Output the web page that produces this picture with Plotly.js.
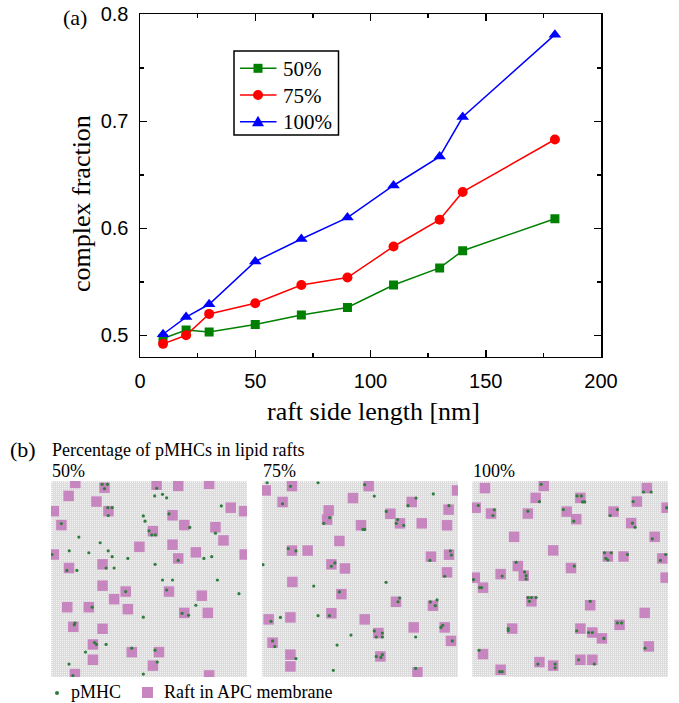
<!DOCTYPE html>
<html>
<head>
<meta charset="utf-8">
<script src="https://cdn.plot.ly/plotly-3.0.1.min.js"></script>
<style>html,body{margin:0;padding:0;background:#fff;}#chart{width:679px;height:703px;}</style>
</head>
<body>
<div id="chart"></div>
<script>
// ---------- Panel (a) data ----------
var raftSide = [10, 20, 30, 50, 70, 90, 110, 130, 140, 180];
var frac50  = [0.497, 0.505, 0.503, 0.510, 0.519, 0.526, 0.547, 0.563, 0.579, 0.609];
var frac75  = [0.492, 0.500, 0.520, 0.530, 0.547, 0.554, 0.583, 0.608, 0.634, 0.683];
var frac100 = [0.501, 0.517, 0.529, 0.569, 0.590, 0.610, 0.640, 0.667, 0.704, 0.781];
var seriesNames = ['50%', '75%', '100%'];

// ---------- Panel (b) data (lattice positions, 0-100, y from top) ----------
var rafts50x = [12.4,27.3,53.9,64.9,80.7,9.0,23.2,29.3,1.4,91.7,98.5,62.0,5.3,68.0,83.9,52.0,88.0,45.1,62.0,73.9,1.4,98.8,64.9,26.3,9.2,26.3,38.1,60.2,76.9,32.2,8.3,19.3,39.2,68.0,80.0,11.4,26.3,21.4,41.2,55.1,21.4,52.0,12.2,80.7];
var rafts50y = [1.0,3.4,1.9,2.5,1.4,7.6,10.5,15.4,15.4,13.6,15.4,17.5,22.5,22.5,23.6,25.6,30.3,33.6,32.5,36.4,37.5,37.5,39.5,42.5,44.4,53.4,56.4,56.4,58.5,60.3,64.4,64.4,65.4,67.3,67.3,74.4,75.4,83.4,87.3,87.3,91.2,94.2,98.5,99.2];
var pmhc50x = [26.1,28.8,27.3,53.9,56.9,59.0,52.9,29.0,31.2,29.2,86.9,47.1,48.0,60.2,5.3,70.8,50.0,51.4,53.2,83.9,14.2,25.1,9.3,19.3,29.2,0.5,31.2,39.2,78.0,82.0,64.9,53.1,8.1,13.2,28.1,32.2,56.9,62.0,84.9,38.1,59.0,95.9,21.0,73.9,66.9,70.2,47.1,12.2,11.9,22.2,23.2,28.1,17.6,41.2,53.1,9.2,54.2,11.2,47.1];
var pmhc50y = [1.7,1.7,3.9,3.7,6.8,8.6,7.6,13.6,13.6,17.6,12.7,17.8,20.5,16.8,21.7,23.7,25.4,27.5,27.5,26.6,28.6,31.5,35.6,36.6,35.6,37.5,38.6,39.5,39.5,38.6,40.5,42.5,45.6,45.6,44.4,44.4,50.5,50.5,50.5,56.4,55.6,57.5,64.4,63.4,67.5,68.5,69.5,72.5,73.4,82.4,83.4,83.4,87.3,85.3,86.3,93.4,92.4,99.3,98.5];

var rafts75x = [1.9,15.3,54.4,10.5,46.4,34.0,33.2,76.4,95.2,65.5,70.4,81.5,94.4,50.5,99.5,39.5,15.3,23.3,95.4,86.2,35.4,42.3,94.4,15.5,40.5,68.4,87.2,3.4,14.5,35.4,52.4,77.4,59.4,93.2,96.4,5.4,60.4,14.5,14.5,79.3];
var rafts75y = [4.8,2.6,2.6,10.7,8.7,15.0,19.7,10.7,14.6,16.7,21.6,21.6,22.6,22.6,4.8,30.6,35.5,35.5,37.6,38.6,42.5,44.6,46.6,51.5,57.7,61.6,63.6,70.6,69.6,67.5,70.6,74.7,77.6,74.7,81.6,82.5,89.5,88.6,94.6,97.6];
var pmhc75x = [2.6,14.5,28.6,52.4,57.3,87.4,10.5,74.5,78.6,95.4,63.4,34.5,31.5,69.2,68.5,72.3,51.5,52.4,13.4,17.3,96.1,96.6,85.7,37.2,35.4,0.5,93.2,26.4,63.3,39.5,70.2,69.4,89.3,88.4,85.9,4.6,9.4,28.6,34.4,92.2,91.3,57.3,61.4,61.4,58.3,45.4,78.4,5.4,6.5,38.3,58.3,61.4,60.7,17.3,97.1,36.4,78.4];
var pmhc75y = [0.9,2.7,0.9,1.9,7.7,6.6,11.6,12.6,8.7,12.6,15.5,18.7,21.6,19.7,21.6,22.6,24.7,24.7,34.5,35.7,35.7,37.8,40.5,41.8,43.5,42.7,48.6,53.6,51.7,56.6,59.7,61.6,60.7,63.6,61.7,71.6,69.6,68.7,68.7,73.6,74.7,76.5,77.6,79.6,79.6,78.6,79.6,81.6,84.5,83.7,89.5,88.6,90.0,90.6,81.6,96.6,95.6];

var rafts100x = [6.6,36.6,32.5,89.2,55.3,1.9,9.7,28.5,48.3,72.2,84.1,53.2,81.2,99.3,21.5,93.2,41.4,69.3,77.3,97.1,23.4,50.5,14.6,26.4,1.4,5.6,98.8,30.3,60.3,88.1,20.5,55.3,61.4,75.3,66.3,90.2,5.6,34.4,41.4,55.3,61.4,14.6];
var rafts100y = [3.6,2.5,8.6,3.6,8.6,13.6,16.6,16.6,15.6,15.6,10.5,19.5,21.5,13.6,28.5,28.5,35.4,38.5,38.5,39.5,43.4,44.4,47.5,48.3,49.3,54.4,49.3,61.4,63.4,67.3,75.3,75.3,77.3,73.4,80.3,84.4,88.3,92.4,94.2,91.2,91.2,96.3];
var pmhc100x = [35.3,53.6,55.8,56.4,57.5,34.4,3.2,11.4,10.7,28.5,46.6,51.9,74.2,70.5,82.2,81.9,83.2,87.5,91.4,92.0,99.3,67.6,71.0,68.3,69.3,79.3,96.1,98.8,52.2,22.5,26.8,27.6,27.6,15.4,0.8,3.9,4.9,28.6,30.3,32.7,29.3,60.3,18.5,18.5,53.4,59.5,61.4,74.2,76.3,67.3,88.3,3.6,33.6,42.4,42.4,54.4,62.4,14.1,15.4];
var pmhc100y = [1.7,7.6,7.6,10.7,10.7,10.5,12.5,14.7,17.6,15.4,14.6,20.5,14.6,17.6,10.5,21.5,23.6,5.6,5.6,29.5,13.6,36.6,36.6,39.5,40.3,37.5,40.5,37.5,43.4,41.5,46.4,48.3,50.0,48.5,50.3,54.4,54.4,59.5,59.5,59.5,61.4,61.4,75.3,76.3,76.4,77.3,77.3,72.4,72.4,80.3,85.3,86.4,93.4,93.4,95.3,91.2,93.4,97.3,97.3];

var panelLabels = ['50%', '75%', '100%'];

// ---------- helpers ----------
var W = 679, H = 703;
function px(x) { return x / W; }
function py(y) { return 1 - y / H; }
var SERIF = '"Liberation Serif", "Times New Roman", serif';
var SANS = '"Liberation Sans", Arial, sans-serif';
var RAFT_COLOR = '#c786bf';
var PMHC_COLOR = '#2f7d3d';
var COLORS = ['#008000', '#ff0000', '#0000ff'];

var traces = [
  {x: raftSide, y: frac50, name: seriesNames[0], type: 'scatter', mode: 'lines+markers',
   line: {color: COLORS[0], width: 1.5}, marker: {symbol: 'square', size: 9, color: COLORS[0]}},
  {x: raftSide, y: frac75, name: seriesNames[1], type: 'scatter', mode: 'lines+markers',
   line: {color: COLORS[1], width: 1.5}, marker: {symbol: 'circle', size: 10, color: COLORS[1]}},
  {x: raftSide, y: frac100, name: seriesNames[2], type: 'scatter', mode: 'lines+markers',
   line: {color: COLORS[2], width: 1.5}, marker: {symbol: 'triangle-up', size: 11, color: COLORS[2]}}
];

var panels = [[rafts50x, rafts50y, pmhc50x, pmhc50y], [rafts75x, rafts75y, pmhc75x, pmhc75y], [rafts100x, rafts100y, pmhc100x, pmhc100y]];
panels.forEach(function (p, i) {
  var xa = 'x' + (i + 2), ya = 'y' + (i + 2);
  traces.push({x: p[0], y: p[1], xaxis: xa, yaxis: ya, type: 'scatter', mode: 'markers', showlegend: false,
    hoverinfo: 'skip', marker: {symbol: 'square', size: 10.5, color: RAFT_COLOR, line: {width: 0}}});
  traces.push({x: p[2], y: p[3], xaxis: xa, yaxis: ya, type: 'scatter', mode: 'markers', showlegend: false,
    hoverinfo: 'skip', marker: {symbol: 'circle', size: 3.2, color: PMHC_COLOR, line: {width: 0}}});
});

var axA = {
  showline: true, linecolor: '#000', linewidth: 1.5, mirror: 'ticks',
  ticks: 'inside', ticklen: 7, tickwidth: 1.5, tickcolor: '#000',
  showgrid: false, zeroline: false,
  tickfont: {family: SANS, size: 20, color: '#000'}
};

function ann(text, x, y, opts) {
  var a = {text: text, x: px(x), y: py(y), xref: 'paper', yref: 'paper', showarrow: false,
    xanchor: 'center', yanchor: 'middle', font: {family: SERIF, size: 18, color: '#000'}};
  return Object.assign(a, opts || {});
}

var annotations = [
  ann('(a)', 75, 18, {font: {family: SERIF, size: 22, color: '#000'}}),
  ann('complex fraction', 81, 204, {textangle: -90, font: {family: SERIF, size: 26, color: '#000'}}),
  ann('raft side length [nm]', 373, 411, {font: {family: SERIF, size: 26, color: '#000'}}),
  ann('(b)', 23, 449, {font: {family: SERIF, size: 22, color: '#000'}}),
  ann('Percentage of pMHCs in lipid rafts', 50, 450, {xanchor: 'left'}),
  ann(panelLabels[0], 50, 471, {xanchor: 'left'}),
  ann(panelLabels[1], 261, 471, {xanchor: 'left'}),
  ann(panelLabels[2], 471, 471, {xanchor: 'left'}),
  ann('pMHC', 69, 692, {xanchor: 'left'}),
  ann('Raft in APC membrane', 162, 692, {xanchor: 'left'})
];

var shapes = [
  {type: 'circle', xref: 'paper', yref: 'paper', x0: px(55), x1: px(59), y0: py(695), y1: py(691),
   fillcolor: PMHC_COLOR, line: {width: 0}},
  {type: 'rect', xref: 'paper', yref: 'paper', x0: px(142), x1: px(153), y0: py(698), y1: py(687),
   fillcolor: RAFT_COLOR, line: {width: 0}},
  // legend box for panel (a)
  {type: 'rect', xref: 'paper', yref: 'paper', x0: px(234), x1: px(338.5), y0: py(135), y1: py(51),
   fillcolor: '#fff', line: {color: '#000', width: 1.5}, layer: 'above'}
];

// light membrane background behind the lattice panels
[2, 3, 4].forEach(function (n) {
  shapes.push({type: 'rect', xref: 'x' + n + ' domain', yref: 'y' + n + ' domain', x0: 0, x1: 1, y0: 0, y1: 1,
    fillcolor: '#f3f3f3', line: {width: 0}, layer: 'below'});
});

// legend rows for panel (a)
var legRows = [68.3, 95, 121.7];
legRows.forEach(function (ry, i) {
  shapes.push({type: 'line', xref: 'paper', yref: 'paper', x0: px(240), x1: px(276.5), y0: py(ry), y1: py(ry),
    line: {color: COLORS[i], width: 1.5}, layer: 'above'});
  if (i === 0) {
    shapes.push({type: 'rect', xref: 'paper', yref: 'paper', x0: px(253.5), x1: px(262.5), y0: py(ry + 4.5), y1: py(ry - 4.5),
      fillcolor: COLORS[i], line: {width: 0}, layer: 'above'});
  } else if (i === 1) {
    shapes.push({type: 'circle', xref: 'paper', yref: 'paper', x0: px(253), x1: px(263), y0: py(ry + 5), y1: py(ry - 5),
      fillcolor: COLORS[i], line: {width: 0}, layer: 'above'});
  } else {
    shapes.push({type: 'path', xref: 'paper', yref: 'paper',
      path: 'M ' + px(252) + ' ' + py(ry + 4.5) + ' L ' + px(264) + ' ' + py(ry + 4.5) + ' L ' + px(258) + ' ' + py(ry - 6) + ' Z',
      fillcolor: COLORS[i], line: {width: 0}, layer: 'above'});
  }
  annotations.push(ann(seriesNames[i], 280.5, ry + 0.5, {xanchor: 'left', font: {family: SERIF, size: 21, color: '#000'}}));
});

var layout = {
  width: W, height: H,
  margin: {l: 0, r: 0, t: 0, b: 0},
  paper_bgcolor: '#fff', plot_bgcolor: 'rgba(0,0,0,0)',
  showlegend: false,
  xaxis: Object.assign({}, axA, {domain: [px(140), px(601)], range: [0, 200], dtick: 50, tick0: 0,
    ticklabelstandoff: 6, anchor: 'y',
    minor: {ticks: 'inside', ticklen: 4, tickwidth: 1.5, tickcolor: '#000', dtick: 25, showgrid: false}}),
  yaxis: Object.assign({}, axA, {domain: [py(356.7), py(14.3)], range: [0.48, 0.8], dtick: 0.1, tick0: 0.5,
    ticklabelstandoff: 6, anchor: 'x', tickformat: '.1f',
    minor: {ticks: 'inside', ticklen: 4, tickwidth: 1.5, tickcolor: '#000', dtick: 0.05, showgrid: false}}),
  annotations: annotations,
  shapes: shapes
};

var panelDomains = [[51, 247], [262, 458], [472, 668]];
panelDomains.forEach(function (d, i) {
  var n = i + 2;
  layout['xaxis' + n] = {domain: [px(d[0]), px(d[1])], range: [0, 100], anchor: 'y' + n,
    showticklabels: false, ticks: '', showline: false, zeroline: false,
    showgrid: true, tick0: 0, dtick: 100 / 98, gridcolor: '#dcdcdc', gridwidth: 1};
  layout['yaxis' + n] = {domain: [py(677), py(481)], range: [100, 0], anchor: 'x' + n,
    showticklabels: false, ticks: '', showline: false, zeroline: false,
    showgrid: true, tick0: 0, dtick: 100 / 98, gridcolor: '#dcdcdc', gridwidth: 1};
});

Plotly.newPlot('chart', traces, layout, {staticPlot: true, displayModeBar: false});
</script>
</body>
</html>
